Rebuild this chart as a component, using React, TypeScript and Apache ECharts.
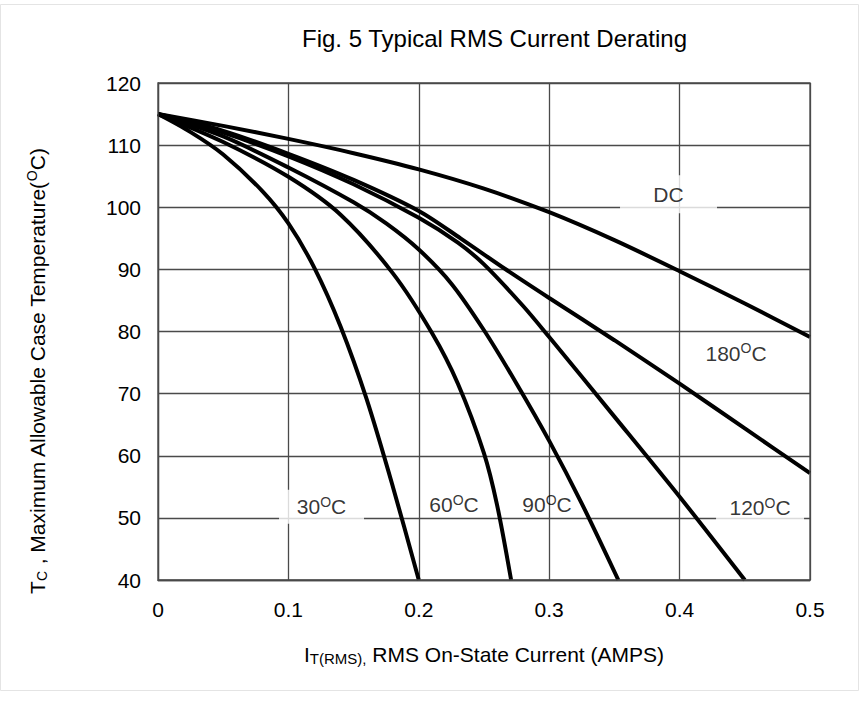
import { useEffect, useRef } from 'react';
import * as echarts from 'echarts';

const FONT = '"Liberation Sans", Arial, Helvetica, sans-serif';

// Curves: current (A) vs allowable case temperature (°C)
const dcX = [0, 0.05, 0.1, 0.15, 0.2, 0.25, 0.3, 0.35, 0.4, 0.45, 0.5];
const dcY = [115, 113.1, 111.0, 108.7, 106.1, 103.0, 99.2, 94.7, 89.7, 84.5, 79.1];

const c180X = [0, 0.05, 0.1, 0.15, 0.2, 0.232, 0.266, 0.3, 0.35, 0.4, 0.45, 0.5];
const c180Y = [115, 112.3, 108.6, 104.4, 99.4, 95, 90.1, 85.4, 78.6, 71.6, 64.4, 57.2];

const c120X = [0, 0.05, 0.1, 0.15, 0.2, 0.23, 0.25, 0.28, 0.3, 0.35, 0.4, 0.45];
const c120Y = [115, 112, 108.2, 103.7, 98.3, 94.3, 90.8, 84.1, 79.1, 66.3, 53.4, 40];

const c90X = [0, 0.05, 0.1, 0.15, 0.175, 0.2, 0.225, 0.25, 0.275, 0.3, 0.325, 0.353];
const c90Y = [115, 111.4, 106.4, 100.8, 97.4, 93.2, 87.7, 80.2, 71.6, 62.4, 52.3, 40];

const c60X = [0, 0.05, 0.1, 0.14, 0.18, 0.21, 0.23, 0.25, 0.26, 0.2708];
const c60Y = [115, 110.5, 104.9, 98.8, 89.4, 79.8, 71.6, 60.4, 52.1, 40];

const c30X = [0, 0.025, 0.05, 0.08, 0.1, 0.12, 0.14, 0.16, 0.18, 0.2];
const c30Y = [115, 112.1, 108.5, 102.6, 97.4, 90.2, 80.8, 69.1, 55.1, 40];

// Curve labels (data coordinates)
const labelNames = ['DC', '180', '120', '30', '60', '90'];
const labelX = [0.3915, 0.4433, 0.4617, 0.1254, 0.227, 0.2983];
const labelY = [102.1, 76.5, 51.6, 51.8, 52.1, 52.1];
const labelBoxed = [true, false, true, true, false, false];

const curves = [
  { name: 'DC', xs: dcX, ys: dcY },
  { name: '180', xs: c180X, ys: c180Y },
  { name: '120', xs: c120X, ys: c120Y },
  { name: '90', xs: c90X, ys: c90Y },
  { name: '60', xs: c60X, ys: c60Y },
  { name: '30', xs: c30X, ys: c30Y },
];

const boxSizes: Record<string, number[]> = {
  DC: [97, 38],
  '120': [88, 34],
  '30': [85, 34],
};

const GRID_COLOR = '#4a4a4a';

export default function App() {
  const ref = useRef<HTMLDivElement>(null);

  useEffect(() => {
    if (!ref.current) return;
    const chart = echarts.init(ref.current, undefined, { renderer: 'svg' });

    const labelRich = {
      n: { fontSize: 21, fontFamily: FONT, color: '#000', lineHeight: 24 },
      s: { fontSize: 14, fontFamily: FONT, color: '#000', lineHeight: 17, verticalAlign: 'top' },
    };

    const labelData = labelNames.map((nm, i) => {
      const boxed = labelBoxed[i];
      const text = nm === 'DC' ? '{n|DC}' : `{n|${nm}}{s|O}{n|C}`;
      return {
        value: [labelX[i], labelY[i]],
        symbol: 'rect',
        symbolSize: boxed ? boxSizes[nm] : [1, 1],
        itemStyle: { color: boxed ? '#ffffff' : 'rgba(0,0,0,0)' },
        label: { show: true, position: 'inside', formatter: text, rich: labelRich },
      };
    });

    const option: any = {
      animation: false,
      backgroundColor: '#ffffff',
      title: {
        text: 'Fig. 5 Typical RMS Current Derating',
        left: 297,
        top: 21,
        textStyle: { fontSize: 24, fontWeight: 'normal', color: '#000', fontFamily: FONT },
      },
      grid: { left: 158, right: 50, top: 83, bottom: 123, containLabel: false },
      xAxis: {
        type: 'value',
        min: 0,
        max: 0.5,
        interval: 0.1,
        axisLine: { show: true, lineStyle: { color: GRID_COLOR, width: 1.3 } },
        axisTick: { show: false },
        splitLine: { show: true, lineStyle: { color: GRID_COLOR, width: 1.3 } },
        axisLabel: { fontSize: 21, color: '#000', fontFamily: FONT, margin: 19 },
        name: 'I{sub|T(RMS),} RMS On-State Current (AMPS)',
        nameLocation: 'middle',
        nameGap: 62,
        nameTextStyle: {
          fontSize: 21,
          color: '#000',
          fontFamily: FONT,
          lineHeight: 24,
          rich: {
            sub: { fontSize: 15, fontFamily: FONT, color: '#000', lineHeight: 10, verticalAlign: 'bottom' },
          },
        },
      },
      yAxis: {
        type: 'value',
        min: 40,
        max: 120,
        interval: 10,
        axisLine: { show: true, lineStyle: { color: GRID_COLOR, width: 1.3 } },
        axisTick: { show: false },
        splitLine: { show: true, lineStyle: { color: GRID_COLOR, width: 1.3 } },
        axisLabel: { fontSize: 21, color: '#000', fontFamily: FONT, margin: 17 },
      },
      graphic: [
        {
          type: 'rect',
          silent: true,
          z: -10,
          shape: { x: 0.5, y: 4.5, width: 858, height: 686 },
          style: { fill: 'none', stroke: '#e4e4e4', lineWidth: 1 },
        },
        {
          type: 'rect',
          silent: true,
          z: 100,
          shape: { x: 158, y: 83, width: 652, height: 497 },
          style: { fill: 'none', stroke: GRID_COLOR, lineWidth: 1.3 },
        },
        {
          type: 'text',
          x: 37,
          y: 371,
          rotation: Math.PI / 2,
          silent: true,
          style: {
            text: 'T{sub|C} , Maximum Allowable Case Temperature({sup|O}C)',
            fontSize: 21,
            fontFamily: FONT,
            fill: '#000',
            lineHeight: 24,
            align: 'center',
            verticalAlign: 'middle',
            rich: {
              sub: { fontSize: 14, fontFamily: FONT, fill: '#000', lineHeight: 10, verticalAlign: 'bottom' },
              sup: { fontSize: 14, fontFamily: FONT, fill: '#000', lineHeight: 17, verticalAlign: 'top' },
            },
          },
        },
      ],
      series: [
        ...curves.map((c) => ({
          type: 'line',
          name: c.name,
          data: c.xs.map((x, i) => [x, c.ys[i]]),
          showSymbol: false,
          smooth: 0.3,
          clip: true,
          silent: true,
          z: 3,
          lineStyle: { color: '#000', width: 4 },
        })),
        {
          type: 'scatter',
          name: 'labels',
          silent: true,
          z: 2,
          data: labelData,
        },
      ],
    };

    chart.setOption(option);
    return () => chart.dispose();
  }, []);

  return (
    <div
      ref={ref}
      style={{ position: 'absolute', left: 0, top: 0, width: 860, height: 703 }}
    />
  );
}
